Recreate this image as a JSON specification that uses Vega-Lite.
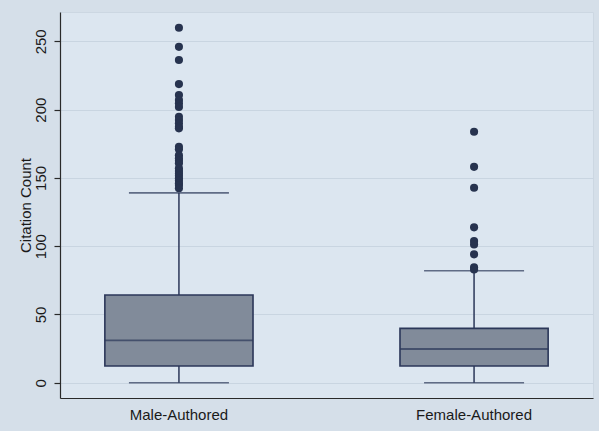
{
  "$schema": "https://vega.github.io/schema/vega-lite/v6.json",
  "width": 533,
  "height": 386,
  "autosize": {"type": "none"},
  "padding": {"left": 60, "top": 12, "right": 6, "bottom": 33},
  "background": "#d5dfe9",
  "config": {
    "view": {"fill": "#dce6f0", "stroke": "#ccd7e2", "strokeWidth": 1},
    "font": "Liberation Sans",
    "axis": {
      "labelFont": "Liberation Sans",
      "titleFont": "Liberation Sans",
      "labelFontSize": 15,
      "titleFontSize": 15,
      "titleFontWeight": "normal",
      "labelColor": "#1a1a1a",
      "titleColor": "#1a1a1a",
      "domainColor": "#2a2a2a",
      "tickColor": "#2a2a2a"
    }
  },
  "datasets": {
    "summary": [
      {"group": "Male-Authored", "lower": 0, "q1": 12.2, "median": 31, "q3": 64.2, "upper": 139},
      {"group": "Female-Authored", "lower": 0, "q1": 12.2, "median": 24.7, "q3": 39.8, "upper": 82}
    ],
    "outliers": [
      {"group": "Male-Authored", "value": 260},
      {"group": "Male-Authored", "value": 246},
      {"group": "Male-Authored", "value": 236.3},
      {"group": "Male-Authored", "value": 218.7},
      {"group": "Male-Authored", "value": 210.7},
      {"group": "Male-Authored", "value": 207},
      {"group": "Male-Authored", "value": 204.6},
      {"group": "Male-Authored", "value": 202},
      {"group": "Male-Authored", "value": 194.8},
      {"group": "Male-Authored", "value": 192.4},
      {"group": "Male-Authored", "value": 190},
      {"group": "Male-Authored", "value": 187.5},
      {"group": "Male-Authored", "value": 186.3},
      {"group": "Male-Authored", "value": 172.8},
      {"group": "Male-Authored", "value": 170.9},
      {"group": "Male-Authored", "value": 166.5},
      {"group": "Male-Authored", "value": 164.3},
      {"group": "Male-Authored", "value": 162.5},
      {"group": "Male-Authored", "value": 160.7},
      {"group": "Male-Authored", "value": 157},
      {"group": "Male-Authored", "value": 155},
      {"group": "Male-Authored", "value": 153.3},
      {"group": "Male-Authored", "value": 151.5},
      {"group": "Male-Authored", "value": 149.7},
      {"group": "Male-Authored", "value": 148},
      {"group": "Male-Authored", "value": 146},
      {"group": "Male-Authored", "value": 144.8},
      {"group": "Male-Authored", "value": 142.4},
      {"group": "Female-Authored", "value": 183.8},
      {"group": "Female-Authored", "value": 158.1},
      {"group": "Female-Authored", "value": 142.8},
      {"group": "Female-Authored", "value": 113.8},
      {"group": "Female-Authored", "value": 103.7},
      {"group": "Female-Authored", "value": 101.3},
      {"group": "Female-Authored", "value": 94},
      {"group": "Female-Authored", "value": 84.5},
      {"group": "Female-Authored", "value": 83}
    ]
  },
  "encoding": {
    "x": {
      "field": "group",
      "type": "nominal",
      "sort": ["Male-Authored", "Female-Authored"],
      "scale": {"paddingInner": 0.498, "paddingOuter": 0.152},
      "axis": {"title": null, "labelAngle": 0, "ticks": false, "labelPadding": 9, "grid": false, "domainWidth": 1.2}
    }
  },
  "layer": [
    {
      "data": {"name": "summary"},
      "mark": {"type": "rule", "color": "#2b3759", "strokeWidth": 1.5},
      "encoding": {
        "y": {
          "field": "lower",
          "type": "quantitative",
          "scale": {"domain": [-11.2, 271.5], "nice": false, "zero": false},
          "axis": {
            "title": "Citation Count",
            "values": [0, 50, 100, 150, 200, 250],
            "labelAngle": -90,
            "labelAlign": "center",
            "labelBaseline": "bottom",
            "labelPadding": 6,
            "tickSize": 6,
            "tickWidth": 1.2,
            "domainWidth": 1.2,
            "titlePadding": 0,
            "grid": true,
            "gridColor": "#c9d5e1",
            "gridWidth": 1.2
          }
        },
        "y2": {"field": "upper"}
      }
    },
    {
      "data": {"name": "summary"},
      "mark": {"type": "tick", "color": "#2b3759", "size": 100, "thickness": 1.6},
      "encoding": {"y": {"field": "lower", "type": "quantitative"}}
    },
    {
      "data": {"name": "summary"},
      "mark": {"type": "tick", "color": "#2b3759", "size": 100, "thickness": 1.6},
      "encoding": {"y": {"field": "upper", "type": "quantitative"}}
    },
    {
      "data": {"name": "summary"},
      "mark": {"type": "bar", "fill": "#818b9a", "stroke": "#2b3759", "strokeWidth": 1.6},
      "encoding": {
        "y": {"field": "q1", "type": "quantitative"},
        "y2": {"field": "q3"}
      }
    },
    {
      "data": {"name": "summary"},
      "mark": {"type": "tick", "color": "#2b3759", "size": 148, "thickness": 1.8},
      "encoding": {"y": {"field": "median", "type": "quantitative"}}
    },
    {
      "data": {"name": "outliers"},
      "mark": {"type": "point", "filled": true, "color": "#27334f", "opacity": 1, "size": 66},
      "encoding": {"y": {"field": "value", "type": "quantitative"}}
    }
  ]
}
